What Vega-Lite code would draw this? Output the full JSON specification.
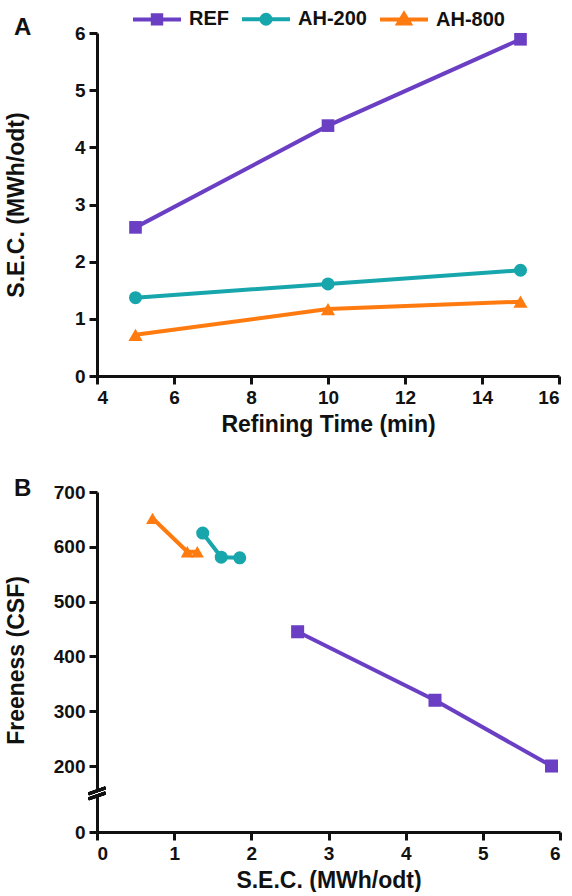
{
  "$schema": "https://vega.github.io/schema/vega-lite/v6.json",
  "background": "white",
  "padding": {"left": 5, "top": 9, "right": 0, "bottom": 0},
  "config": {
    "view": {"stroke": null},
    "font": "Liberation Sans",
    "axis": {
      "grid": false,
      "domainColor": "#111111", "domainWidth": 3,
      "tickColor": "#111111", "tickWidth": 3, "tickSize": 8,
      "labelFont": "Liberation Sans", "labelFontSize": 19, "labelFontWeight": "bold", "labelColor": "#111111", "labelPadding": 4,
      "titleFont": "Liberation Sans", "titleFontSize": 23, "titleFontWeight": "bold", "titleColor": "#111111"
    },
    "title": {"font": "Liberation Sans", "fontSize": 24, "fontWeight": "bold", "color": "#111111", "anchor": "start", "frame": "bounds", "offset": 0, "baseline": "alphabetic"}
  },
  "data": {"values": [
    {"series": "REF", "time": 5, "sec": 2.6, "freeness": 445},
    {"series": "REF", "time": 10, "sec": 4.38, "freeness": 320},
    {"series": "REF", "time": 15, "sec": 5.89, "freeness": 200},
    {"series": "AH-200", "time": 5, "sec": 1.37, "freeness": 625},
    {"series": "AH-200", "time": 10, "sec": 1.61, "freeness": 581},
    {"series": "AH-200", "time": 15, "sec": 1.85, "freeness": 580},
    {"series": "AH-800", "time": 5, "sec": 0.72, "freeness": 652},
    {"series": "AH-800", "time": 10, "sec": 1.17, "freeness": 591},
    {"series": "AH-800", "time": 15, "sec": 1.3, "freeness": 591}
  ]},
  "resolve": {"scale": {"color": "independent", "shape": "independent", "stroke": "independent"}},
  "spacing": 41,
  "vconcat": [
    {
      "title": {"text": "A", "dx": 9, "dy": 35},
      "width": 462,
      "height": 343,
      "encoding": {
        "x": {"field": "time", "type": "quantitative", "scale": {"domain": [4, 16], "nice": false, "zero": false},
              "axis": {"values": [4, 6, 8, 10, 12, 14, 16], "title": "Refining Time (min)", "titlePadding": 6}},
        "y": {"field": "sec", "type": "quantitative", "scale": {"domain": [0, 6], "nice": false},
              "axis": {"values": [0, 1, 2, 3, 4, 5, 6], "title": "S.E.C. (MWh/odt)", "titleX": -69}},
        "color": {"field": "series", "type": "nominal",
                  "scale": {"domain": ["REF", "AH-200", "AH-800"], "range": ["#6b3fc4", "#16a6ab", "#ff7b0f"]},
                  "legend": {
                    "title": null, "orient": "none", "legendX": 50, "legendY": -24, "direction": "horizontal",
                    "labelFont": "Liberation Sans", "labelFontSize": 20, "labelFontWeight": "bold", "labelColor": "#111111",
                    "symbolSize": 144, "symbolStrokeWidth": 4, "symbolOpacity": 1, "labelOffset": 22, "columnPadding": 5
                  }}
      },
      "layer": [
        {"mark": {"type": "line", "strokeWidth": 4}},
        {"transform": [{"filter": "datum.series === 'REF'"}],
         "mark": {"type": "point", "shape": "square", "filled": true, "opacity": 1, "size": 160}},
        {"transform": [{"filter": "datum.series === 'AH-200'"}],
         "mark": {"type": "point", "shape": "circle", "filled": true, "opacity": 1, "size": 170}},
        {"transform": [{"filter": "datum.series === 'AH-800'"}],
         "mark": {"type": "point", "shape": "triangle-up", "filled": true, "opacity": 1, "size": 200}},
        {"transform": [{"filter": "false"}],
         "mark": {"type": "point", "filled": true, "opacity": 1, "size": 144, "strokeWidth": 4},
         "encoding": {
           "stroke": {"field": "series", "type": "nominal",
                      "scale": {"domain": ["REF", "AH-200", "AH-800"], "range": ["#6b3fc4", "#16a6ab", "#ff7b0f"]},
                      "legend": {"title": null}},
           "shape": {"field": "series", "type": "nominal",
                     "scale": {"domain": ["REF", "AH-200", "AH-800"],
                               "range": ["M-4,0L4,0M-0.7,-0.7L0.7,-0.7L0.7,0.7L-0.7,0.7Z",
                                         "M-4,0L4,0M0.75,0A0.75,0.75,0,1,1,-0.75,0A0.75,0.75,0,1,1,0.75,0Z",
                                         "M-4,0L4,0M0,-0.9L0.95,0.65L-0.95,0.65Z"]},
                     "legend": {"title": null}}
         }}
      ]
    },
    {
      "title": {"text": "B", "dx": 9, "dy": 22},
      "width": 463,
      "height": 340,
      "encoding": {
        "x": {"field": "sec", "type": "quantitative", "scale": {"domain": [0, 6], "nice": false},
              "axis": {"values": [0, 1, 2, 3, 4, 5, 6], "title": "S.E.C. (MWh/odt)", "titlePadding": 6}},
        "y": {"field": "freeness", "type": "quantitative",
              "scale": {"domain": [0, 140, 700], "range": [340, 306.9, 0], "nice": false, "zero": false},
              "axis": {"values": [0, 200, 300, 400, 500, 600, 700], "title": "Freeness (CSF)", "titleX": -69, "titleY": 168}},
        "color": {"field": "series", "type": "nominal",
                  "scale": {"domain": ["REF", "AH-200", "AH-800"], "range": ["#6b3fc4", "#16a6ab", "#ff7b0f"]},
                  "legend": null}
      },
      "layer": [
        {"mark": {"type": "line", "strokeWidth": 4}},
        {"mark": {"type": "point", "filled": true, "opacity": 1, "size": 170},
         "encoding": {"shape": {"field": "series", "type": "nominal",
                                "scale": {"domain": ["REF", "AH-200", "AH-800"], "range": ["square", "circle", "triangle-up"]},
                                "legend": null}}},
        {"mark": {"type": "point", "shape": "M-1,0.05L1,-0.65L1,-0.05L-1,0.65Z", "filled": true, "fill": "white", "strokeWidth": 0, "opacity": 1, "size": 289},
         "encoding": {"x": {"datum": 0, "type": "quantitative"}, "y": {"datum": 150, "type": "quantitative"}, "color": null}},
        {"mark": {"type": "point", "shape": "M-1,0.05L1,-0.65M-1,0.65L1,-0.05", "filled": false, "stroke": "#111111", "strokeWidth": 3, "opacity": 1, "size": 289},
         "encoding": {"x": {"datum": 0, "type": "quantitative"}, "y": {"datum": 150, "type": "quantitative"}, "color": null}}
      ]
    }
  ]
}
